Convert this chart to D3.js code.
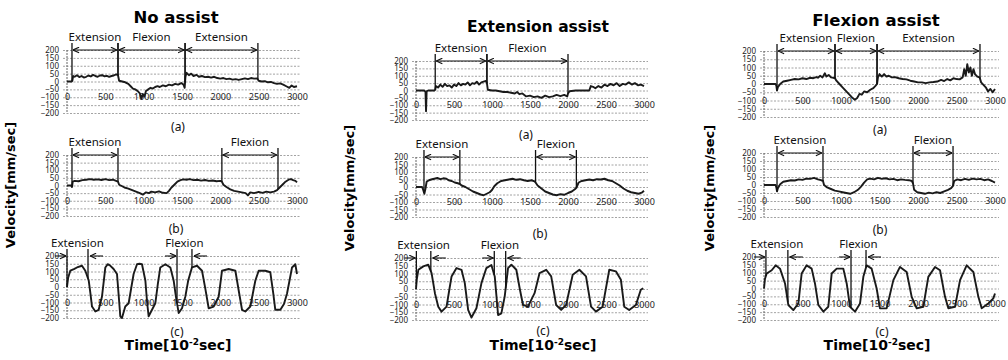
<!DOCTYPE html>
<html>
<head>
<meta charset="utf-8">
<script src="https://d3js.org/d3.v7.min.js"></script>
<style>
  html, body { margin: 0; padding: 0; background: #fff; }
  svg { display: block; }
  .grid line { stroke: #8c8c8c; stroke-dasharray: 2,1.5; stroke-width: 0.8; }
  .ylbl text, .xlbl text { font-family: "Noto Sans", sans-serif; fill: #222; }
  .phase-lbl { font-family: "Noto Sans", sans-serif; font-size: 11.5px; fill: #111; }
  .tag { font-family: "Noto Sans", sans-serif; font-size: 12px; fill: #111; }
  .big { font-family: "DejaVu Sans", sans-serif; font-weight: bold; fill: #000; }
</style>
</head>
<body>
<svg id="chart" width="1008" height="360"></svg>
<script>
"use strict";

// Tick values and text
const X_TICKS = [0, 500, 1000, 1500, 2000, 2500, 3000];
const Y_TICKS = [-200, -150, -100, -50, 0, 50, 100, 150, 200];
const COL_TITLES = ["No assist", "Extension assist", "Flexion assist"];
const ROW_TAGS = ["(a)", "(b)", "(c)"];

// No assist: [time, velocity]
const NO_A = [[0,0],[60,0],[70,5],[80,35],[100,30],[130,40],[160,28],[190,35],[220,25],[250,30],[280,38],[310,32],[340,42],[370,35],[400,30],[430,38],[460,40],[490,33],[520,36],[550,30],[580,35],[610,38],[640,45],[665,40],[680,5],[720,0],[760,-5],[800,-15],[830,-30],[860,-45],[890,-50],[920,-60],[950,-75],[970,-110],[990,-80],[1010,-95],[1030,-60],[1060,-50],[1090,-40],[1120,-45],[1150,-35],[1180,-30],[1210,-35],[1250,-25],[1290,-30],[1330,-20],[1370,-25],[1410,-15],[1450,-20],[1490,-10],[1520,-20],[1535,-40],[1545,30],[1560,55],[1590,40],[1620,50],[1650,35],[1690,42],[1720,30],[1760,35],[1800,28],[1840,30],[1880,25],[1920,30],[1960,22],[2000,18],[2040,22],[2080,15],[2120,18],[2160,12],[2200,15],[2240,10],[2280,15],[2320,20],[2360,15],[2400,22],[2440,18],[2480,20],[2500,5],[2540,0],[2580,2],[2620,-5],[2660,-3],[2700,-10],[2740,-15],[2780,-12],[2820,-20],[2860,-30],[2900,-40],[2930,-25],[2960,-35],[3000,-30]];
const NO_B = [[0,0],[55,0],[65,-10],[75,25],[100,30],[150,28],[200,35],[250,38],[300,42],[350,38],[400,40],[450,36],[500,42],[550,35],[600,38],[640,30],[665,25],[680,5],[720,-5],[760,-15],[800,-20],[850,-30],[900,-40],[950,-50],[990,-60],[1030,-45],[1070,-50],[1100,-40],[1150,-45],[1200,-38],[1250,-48],[1300,-50],[1330,-35],[1360,-15],[1400,5],[1440,25],[1480,35],[1520,40],[1560,38],[1600,42],[1650,35],[1700,38],[1750,32],[1800,36],[1850,30],[1900,33],[1950,28],[2000,30],[2020,25],[2040,5],[2080,-10],[2130,-25],[2180,-35],[2230,-40],[2280,-45],[2330,-50],[2360,-65],[2390,-45],[2440,-50],[2500,-42],[2550,-48],[2600,-40],[2650,-45],[2700,-40],[2740,-30],[2770,-15],[2810,5],[2850,25],[2890,38],[2920,42],[2950,35],[2980,30],[3000,20]];
const NO_C = [[0,0],[15,60],[43,105],[90,115],[130,126],[195,137],[239,105],[283,42],[305,-40],[326,-126],[370,-158],[413,-147],[456,-63],[480,40],[500,126],[530,147],[560,140],[608,116],[652,84],[675,-60],[695,-189],[717,-200],[760,-126],[804,-105],[840,0],[869,84],[913,147],[945,150],[978,147],[1022,42],[1045,-100],[1065,-189],[1109,-147],[1152,-105],[1185,20],[1217,126],[1283,147],[1348,126],[1391,42],[1420,-60],[1457,-168],[1500,-137],[1543,-63],[1580,40],[1630,126],[1696,137],[1761,105],[1804,-10],[1848,-137],[1913,-126],[1978,-63],[2000,20],[2022,105],[2109,116],[2196,105],[2239,-21],[2283,-147],[2326,-158],[2391,-126],[2457,42],[2500,105],[2587,105],[2652,95],[2690,-40],[2717,-147],[2783,-147],[2830,-110],[2870,-42],[2935,126],[2978,147],[3000,84]];

// Extension assist
const EXT_A = [[0,0],[110,0],[125,-10],[132,-140],[140,-5],[160,0],[240,0],[253,5],[262,30],[290,20],[320,40],[350,25],[380,45],[410,30],[440,35],[470,20],[500,40],[530,30],[560,50],[590,35],[620,45],[650,40],[680,55],[710,35],[740,50],[770,45],[800,60],[830,40],[860,55],[890,60],[920,65],[933,50],[945,5],[1000,0],[1050,0],[1100,-5],[1150,-10],[1200,-10],[1250,-15],[1300,-20],[1330,-10],[1360,-25],[1400,-20],[1450,-40],[1500,-35],[1550,-45],[1600,-40],[1650,-50],[1700,-35],[1750,-45],[1800,-40],[1850,-30],[1900,-38],[1950,-30],[1990,-40],[2000,-20],[2020,-5],[2100,0],[2200,0],[2280,0],[2300,30],[2330,25],[2360,15],[2400,30],[2440,20],[2480,40],[2520,30],[2560,45],[2600,35],[2640,50],[2680,30],[2720,45],[2760,40],[2800,55],[2840,40],[2880,50],[2920,35],[2960,40],[3000,30]];
const EXT_B = [[0,0],[80,0],[95,-20],[110,-45],[125,-10],[140,35],[170,45],[200,50],[240,55],[280,60],[320,52],[360,58],[400,55],[430,45],[470,40],[510,30],[550,25],[577,20],[600,10],[650,0],[700,-15],[750,-30],[800,-40],[850,-50],[890,-55],[930,-45],[970,-35],[1000,-20],[1030,5],[1070,25],[1120,40],[1170,45],[1220,50],[1270,55],[1320,48],[1370,52],[1420,45],[1470,40],[1520,45],[1560,38],[1573,30],[1600,10],[1650,-10],[1700,-30],[1750,-40],[1800,-50],[1850,-55],[1900,-48],[1950,-52],[2000,-40],[2050,-30],[2090,-15],[2110,-5],[2140,30],[2180,40],[2230,45],[2280,50],[2330,45],[2380,52],[2430,50],[2480,55],[2530,45],[2580,40],[2630,25],[2680,10],[2730,-10],[2780,-25],[2830,-35],[2880,-40],[2930,-45],[2970,-38],[3000,-25]];
const EXT_C = [[0,0],[10,60],[31,124],[96,146],[161,157],[205,103],[249,-27],[293,-114],[336,-146],[402,-114],[440,0],[468,81],[533,135],[599,124],[642,38],[686,-135],[730,-184],[795,-124],[861,38],[926,135],[992,155],[1036,81],[1080,-168],[1123,-157],[1167,-49],[1211,135],[1255,157],[1320,124],[1364,5],[1408,-103],[1473,-114],[1560,-27],[1626,103],[1713,124],[1779,81],[1844,-103],[1910,-135],[1975,-103],[2062,92],[2150,124],[2237,81],[2303,-114],[2368,-146],[2456,-114],[2543,124],[2630,114],[2696,59],[2740,-114],[2805,-135],[2893,-103],[2958,-5],[2990,5]];

// Flexion assist
const FLX_A = [[0,0],[150,0],[160,-10],[169,-40],[180,-20],[210,0],[250,15],[300,20],[350,25],[400,30],[450,28],[500,35],[550,30],[600,38],[640,35],[680,42],[700,38],[730,50],[760,40],[790,65],[810,45],[840,55],[870,40],[900,38],[922,35],[940,20],[980,0],[1020,-20],[1060,-40],[1100,-60],[1140,-80],[1180,-95],[1210,-85],[1240,-60],[1270,-65],[1300,-45],[1340,-50],[1380,-35],[1420,-25],[1450,-10],[1468,0],[1480,40],[1500,60],[1530,45],[1560,60],[1590,45],[1620,50],[1660,40],[1700,42],[1750,35],[1800,30],[1850,28],[1900,20],[1950,15],[2000,10],[2050,10],[2100,5],[2150,10],[2200,12],[2250,15],[2300,25],[2340,18],[2380,30],[2420,22],[2460,35],[2500,30],[2540,28],[2580,40],[2600,90],[2620,50],[2640,120],[2660,70],[2680,100],[2700,50],[2720,90],[2740,60],[2770,45],[2800,40],[2820,10],[2850,-5],[2880,-20],[2910,-45],[2940,-30],[2970,-50],[3000,-30]];
const FLX_B = [[0,0],[150,0],[160,-15],[169,-40],[180,-20],[210,5],[250,20],[300,25],[350,30],[400,28],[450,35],[500,32],[550,40],[600,38],[650,45],[700,35],[740,30],[766,25],[780,0],[820,-15],[870,-25],[920,-35],[970,-40],[1020,-45],[1070,-50],[1120,-55],[1170,-45],[1220,-30],[1260,-10],[1300,15],[1340,35],[1380,40],[1430,35],[1480,45],[1530,38],[1580,42],[1630,35],[1680,38],[1730,30],[1780,35],[1830,32],[1880,30],[1920,25],[1935,10],[1950,-30],[1990,-45],[2040,-50],[2090,-55],[2140,-48],[2190,-52],[2240,-45],[2290,-50],[2340,-40],[2390,-30],[2430,-20],[2455,-5],[2470,25],[2510,35],[2560,30],[2610,38],[2660,32],[2710,40],[2760,35],[2810,38],[2860,30],[2910,35],[2960,25],[3000,15]];
const FLX_C = [[0,0],[12,60],[35,95],[100,116],[152,147],[208,126],[273,32],[316,-105],[381,-137],[446,-95],[489,95],[554,147],[619,126],[662,32],[706,-105],[771,-147],[835,-116],[879,95],[944,126],[1030,126],[1074,32],[1117,-116],[1182,-147],[1247,-95],[1290,74],[1333,147],[1398,126],[1463,0],[1506,-126],[1593,-126],[1680,53],[1766,137],[1853,105],[1918,-53],[1983,-126],[2069,-116],[2134,74],[2221,137],[2286,116],[2351,-53],[2394,-126],[2481,-116],[2546,53],[2632,147],[2719,105],[2784,-53],[2827,-126],[2914,-95],[2978,-63],[3000,-32]];

// Phase annotations: [start, end, label]
const NO_A_PH = [[65,665,"Extension"],[665,1540,"Flexion"],[1540,2490,"Extension"]];
const NO_B_PH = [[65,665,"Extension"],[2020,2752,"Flexion"]];
const NO_C_PH = [[0,274,"Extension"],[1435,1630,"Flexion"]];
const EXT_A_PH = [[253,933,"Extension"],[933,2000,"Flexion"]];
const EXT_B_PH = [[105,577,"Extension"],[1573,2110,"Flexion"]];
const EXT_C_PH = [[5,195,"Extension"],[1030,1180,"Flexion"]];
const FLX_A_PH = [[169,922,"Extension"],[922,1468,"Flexion"],[1468,2805,"Extension"]];
const FLX_B_PH = [[169,766,"Extension"],[1935,2455,"Flexion"]];
const FLX_C_PH = [[25,310,"Extension"],[1130,1325,"Flexion"]];

const SERIES = [[NO_A, NO_B, NO_C], [EXT_A, EXT_B, EXT_C], [FLX_A, FLX_B, FLX_C]];
const PHASES = [[NO_A_PH, NO_B_PH, NO_C_PH], [EXT_A_PH, EXT_B_PH, EXT_C_PH], [FLX_A_PH, FLX_B_PH, FLX_C_PH]];

// Layout of each column (pixels)
const COLS = [
  { x0: 67, x1: 297, rows: [[50, 113], [155, 216], [256, 318]], tags: [[178, 127], [176, 229], [177, 332]], title: [176, 23], vel: [10, 185], time: [178, 350], tsize: 16.5 },
  { x0: 416, x1: 644, rows: [[61, 120], [157, 217], [258, 320]], tags: [[526, 135], [540, 234], [543, 331]], title: [538, 32], vel: [349, 188], time: [543, 350], tsize: 15.5 },
  { x0: 764, x1: 995, rows: [[51, 117], [153, 217], [257, 320]], tags: [[880, 130], [880, 230], [882, 332]], title: [876, 26], vel: [709, 188], time: [877, 350], tsize: 16.5 }
];

const svg = d3.select("#chart");

svg.append("defs").append("marker")
  .attr("id", "ah")
  .attr("viewBox", "0 0 8 8")
  .attr("refX", 7.5).attr("refY", 4)
  .attr("markerWidth", 7).attr("markerHeight", 7)
  .attr("markerUnits", "userSpaceOnUse")
  .attr("orient", "auto-start-reverse")
  .append("path")
  .attr("d", "M0.5,0.8 L7.5,4 L0.5,7.2")
  .attr("fill", "none").attr("stroke", "#111").attr("stroke-width", 1.3);

const bis = d3.bisector(d => d[0]).left;
function valueAt(data, t) {
  const i = bis(data, t);
  if (i <= 0) return data[0][1];
  if (i >= data.length) return data[data.length - 1][1];
  const a = data[i - 1], b = data[i];
  return a[1] + (b[1] - a[1]) * (t - a[0]) / (b[0] - a[0]);
}

function drawPanel(g, data, phases, inward, col, row) {
  const top = col.rows[row][0], bottom = col.rows[row][1];
  const x = d3.scaleLinear().domain([0, 3000]).range([col.x0, col.x1]);
  const y = d3.scaleLinear().domain([-200, 200]).range([bottom, top]);

  // grid
  g.append("g").attr("class", "grid")
    .attr("transform", "translate(" + (col.x0 - 4) + ",0)")
    .call(d3.axisLeft(y).tickValues(Y_TICKS).tickSize(-(col.x1 - col.x0 + 8)).tickFormat(""))
    .call(s => s.select(".domain").remove());

  // y axis line
  g.append("line")
    .attr("x1", col.x0).attr("x2", col.x0)
    .attr("y1", top).attr("y2", bottom)
    .attr("stroke", "#555").attr("stroke-width", 0.9).attr("stroke-dasharray", "2,1");

  // y labels (packed tightly, as in the scan)
  g.append("g").attr("class", "ylbl")
    .attr("transform", "translate(" + (col.x0 - 8) + ",0)")
    .call(d3.axisLeft(y).tickValues(Y_TICKS).tickSize(0).tickPadding(0))
    .call(s => s.select(".domain").remove())
    .selectAll("text").attr("font-size", "8px");

  // x labels at the -100 level
  g.append("g").attr("class", "xlbl")
    .attr("transform", "translate(0," + (y(-100) - 3.2) + ")")
    .call(d3.axisBottom(x).tickValues(X_TICKS).tickFormat(d3.format("d")).tickSize(0).tickPadding(0))
    .call(s => s.select(".domain").remove())
    .selectAll("text").attr("font-size", "9px");

  // signal
  g.append("path")
    .datum(data)
    .attr("fill", "none")
    .attr("stroke", "#1a1a1a")
    .attr("stroke-width", 1.9)
    .attr("stroke-linejoin", "round")
    .attr("d", d3.line().x(d => x(d[0])).y(d => y(d[1])));

  // phase markers
  phases.forEach(function(p) {
    [p[0], p[1]].forEach(function(t) {
      g.append("line")
        .attr("x1", x(t)).attr("x2", x(t))
        .attr("y1", top - 7).attr("y2", y(valueAt(data, t)))
        .attr("stroke", "#111").attr("stroke-width", 1.3);
    });
    const ay = y(200);
    if (inward) {
      g.append("line")
        .attr("x1", x(p[0]) - 12).attr("x2", x(p[0]) - 1)
        .attr("y1", ay).attr("y2", ay)
        .attr("stroke", "#111").attr("stroke-width", 1.1)
        .attr("marker-end", "url(#ah)");
      g.append("line")
        .attr("x1", x(p[1]) + 15).attr("x2", x(p[1]) + 2)
        .attr("y1", ay).attr("y2", ay)
        .attr("stroke", "#111").attr("stroke-width", 1.1)
        .attr("marker-end", "url(#ah)");
    } else {
      g.append("line")
        .attr("x1", x(p[0]) + 1).attr("x2", x(p[1]) - 1)
        .attr("y1", ay).attr("y2", ay)
        .attr("stroke", "#111").attr("stroke-width", 1.1)
        .attr("marker-start", "url(#ah)")
        .attr("marker-end", "url(#ah)");
    }
    g.append("text")
      .attr("class", "phase-lbl")
      .attr("x", (x(p[0]) + x(p[1])) / 2)
      .attr("y", top - 9)
      .attr("text-anchor", "middle")
      .text(p[2]);
  });

  // row tag
  g.append("text")
    .attr("class", "tag")
    .attr("x", col.tags[row][0])
    .attr("y", col.tags[row][1] + 4)
    .attr("text-anchor", "middle")
    .text(ROW_TAGS[row]);
}

COLS.forEach(function(col, c) {
  const g = svg.append("g");

  g.append("text")
    .attr("class", "big")
    .attr("x", col.title[0]).attr("y", col.title[1])
    .attr("text-anchor", "middle")
    .attr("font-size", col.tsize + "px")
    .text(COL_TITLES[c]);

  g.append("text")
    .attr("class", "big")
    .attr("font-size", "13px")
    .attr("text-anchor", "middle")
    .attr("dominant-baseline", "central")
    .attr("transform", "translate(" + col.vel[0] + "," + col.vel[1] + ") rotate(-90)")
    .text("Velocity[mm/sec]");

  const tl = g.append("text")
    .attr("class", "big")
    .attr("font-size", "14px")
    .attr("x", col.time[0]).attr("y", col.time[1])
    .attr("text-anchor", "middle");
  tl.append("tspan").text("Time[10");
  tl.append("tspan").attr("font-size", "9px").attr("dy", -5).text("-2");
  tl.append("tspan").attr("dy", 5).text("sec]");

  for (let r = 0; r < 3; r++) {
    drawPanel(g, SERIES[c][r], PHASES[c][r], r === 2, col, r);
  }
});
</script>
</body>
</html>
